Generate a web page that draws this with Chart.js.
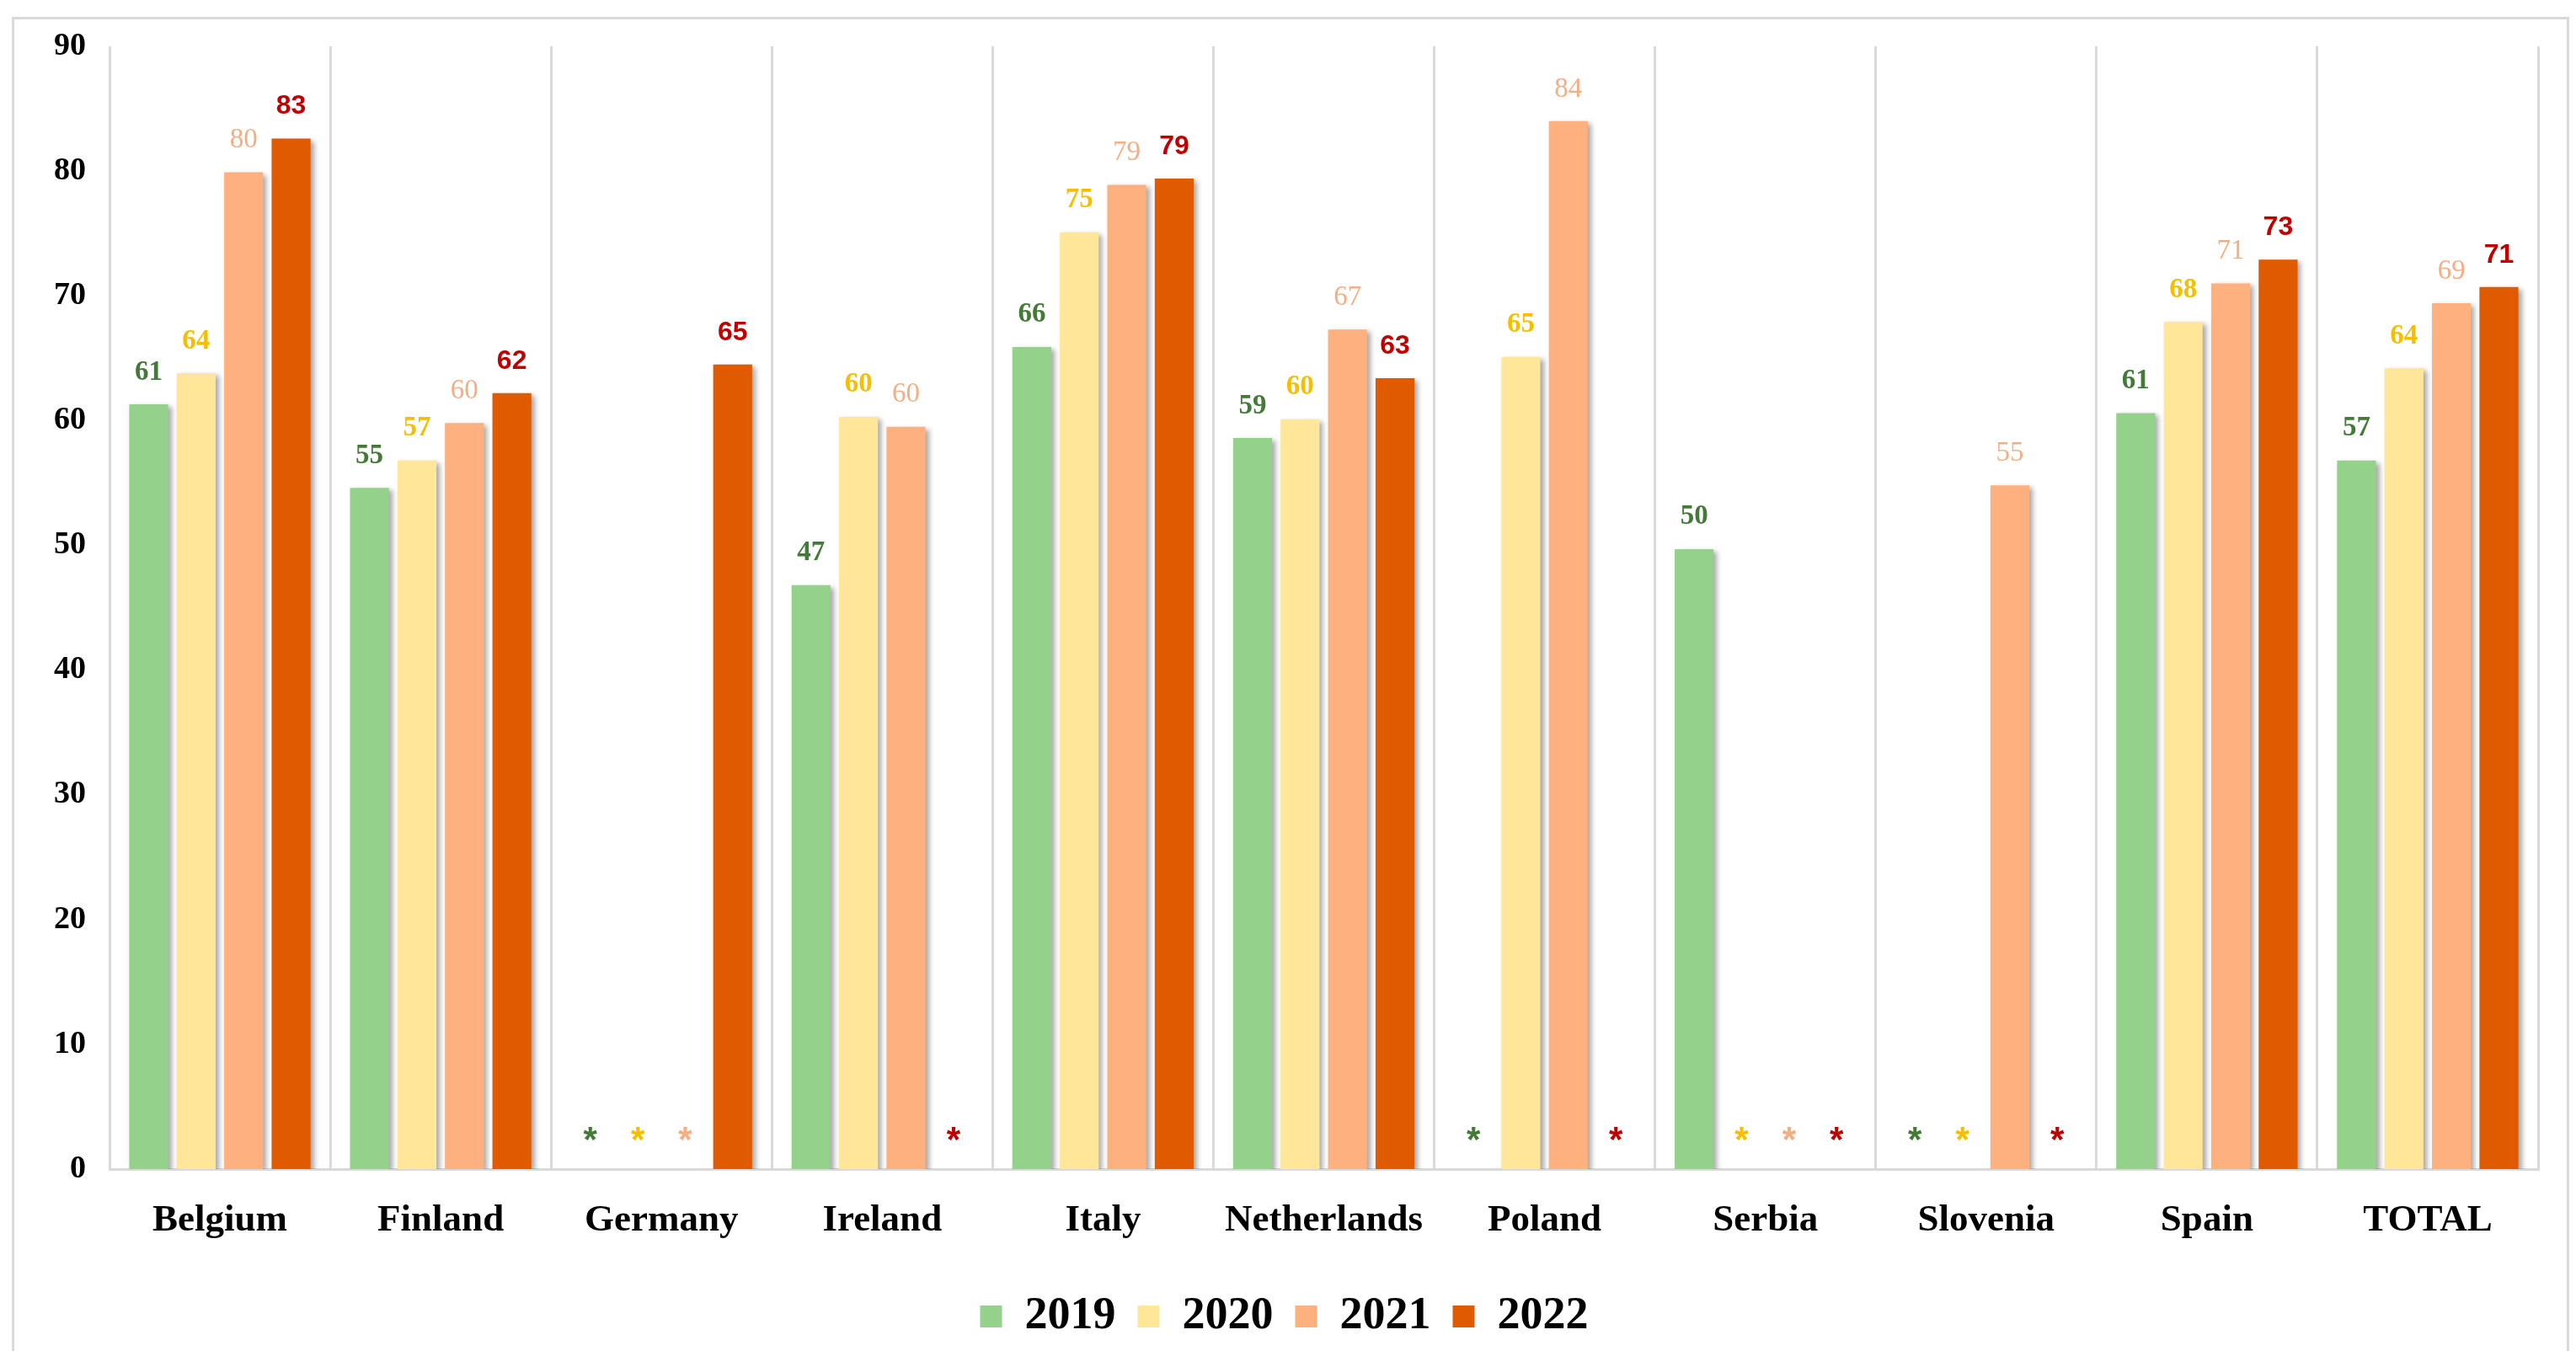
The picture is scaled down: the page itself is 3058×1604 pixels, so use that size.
<!DOCTYPE html>
<html>
<head>
<meta charset="utf-8">
<script src="https://cdn.jsdelivr.net/npm/chart.js@4/dist/chart.umd.min.js"></script>
<style>
    html, body { margin: 0; padding: 0; background: #fff; }
    #frame {
        position: absolute; left: 14px; top: 20px; width: 3030px; height: 1600px;
        border: 3px solid #D9D9D9; border-bottom: none;
    }
    #wrap { position: absolute; left: 0; top: 0; width: 3058px; height: 1604px; }
</style>
</head>
<body>
<div id="frame"></div>
<div id="wrap"><canvas id="chart"></canvas></div>
<script>
// ===========================
// Data
// ===========================

const countries = ['Belgium', 'Finland', 'Germany', 'Ireland', 'Italy', 'Netherlands',
                   'Poland', 'Serbia', 'Slovenia', 'Spain', 'TOTAL'];
const years = ['2019', '2020', '2021', '2022'];

// null = no data (shown as *)
const values2019 = [61.3, 54.6, null, 46.8, 65.9, 58.6, null, 49.7, null, 60.6, 56.8];
const values2020 = [63.8, 56.8, null, 60.3, 75.1, 60.1, 65.1, null, null, 67.9, 64.2];
const values2021 = [79.9, 59.8, null, 59.5, 78.9, 67.3, 84.0, null, 54.8, 71.0, 69.4];
const values2022 = [82.6, 62.2, 64.5, null, 79.4, 63.4, null, null, null, 72.9, 70.7];

const yTicks = [0, 10, 20, 30, 40, 50, 60, 70, 80, 90];

const barColors = ['#94D18A', '#FFE699', '#FFB07F', '#E05B00'];
const labelColors = ['#437A37', '#F5BF00', '#F4AE84', '#C00000'];
const labelFonts = [
    'bold 33px "Liberation Serif", serif',
    'bold 33px "Liberation Serif", serif',
    '33px "Liberation Serif", serif',
    'bold 32px "Liberation Sans Narrow", "Liberation Sans", sans-serif'
];

// ===========================
// Plugins
// ===========================

const barShadow = {
    id: 'barShadow',
    beforeDatasetsDraw(chart) {
        const ctx = chart.ctx;
        ctx.save();
        ctx.shadowColor = 'rgba(0, 0, 0, 0.35)';
        ctx.shadowBlur = 6;
        ctx.shadowOffsetX = 4;
        ctx.shadowOffsetY = 3;
    },
    afterDatasetsDraw(chart) {
        chart.ctx.restore();
    }
};

const valueLabels = {
    id: 'valueLabels',
    afterDatasetsDraw(chart) {
        const ctx = chart.ctx;
        const yScale = chart.scales.y;
        ctx.save();
        ctx.textAlign = 'center';
        ctx.textBaseline = 'middle';
        chart.data.datasets.forEach((ds, di) => {
            const meta = chart.getDatasetMeta(di);
            ctx.fillStyle = labelColors[di];
            meta.data.forEach((bar, i) => {
                const v = ds.data[i];
                if (v === null) {
                    ctx.font = 'bold 42px "Liberation Sans", sans-serif';
                    ctx.fillText('*', bar.x, yScale.getPixelForValue(2.2));
                } else {
                    ctx.font = labelFonts[di];
                    ctx.fillText(Math.round(v), bar.x, bar.y - 38);
                }
            });
        });
        ctx.restore();
    }
};

// ===========================
// Chart
// ===========================

const seriesValues = [values2019, values2020, values2021, values2022];

new Chart(document.getElementById('chart'), {
    type: 'bar',
    data: {
        labels: countries,
        datasets: years.map((yr, i) => ({
            label: yr,
            data: seriesValues[i],
            backgroundColor: barColors[i],
            borderWidth: 0,
            categoryPercentage: 0.86,
            barPercentage: 0.82
        }))
    },
    options: {
        responsive: true,
        maintainAspectRatio: false,
        animation: false,
        layout: {
            padding: { left: 36, right: 45, top: 55, bottom: 4 }
        },
        plugins: {
            legend: {
                position: 'bottom',
                labels: {
                    color: '#000',
                    font: { family: '"Liberation Serif", serif', size: 54, weight: 'bold' },
                    boxWidth: 26,
                    boxHeight: 26,
                    padding: 26
                }
            },
            tooltip: { enabled: false }
        },
        scales: {
            x: {
                grid: { display: true, offset: true, color: '#D9D9D9', lineWidth: 3, drawTicks: false },
                border: { display: true, color: '#D9D9D9', width: 3 },
                ticks: {
                    color: '#000',
                    padding: 34,
                    font: { family: '"Liberation Serif", serif', size: 45, weight: 'bold' }
                }
            },
            y: {
                min: 0,
                max: 90,
                afterBuildTicks(axis) {
                    axis.ticks = yTicks.map(v => ({ value: v }));
                },
                grid: { display: false, drawTicks: false },
                border: { display: false },
                ticks: {
                    color: '#000',
                    padding: 28,
                    font: { family: '"Liberation Serif", serif', size: 38, weight: 'bold' }
                }
            }
        }
    },
    plugins: [barShadow, valueLabels]
});
</script>
</body>
</html>
